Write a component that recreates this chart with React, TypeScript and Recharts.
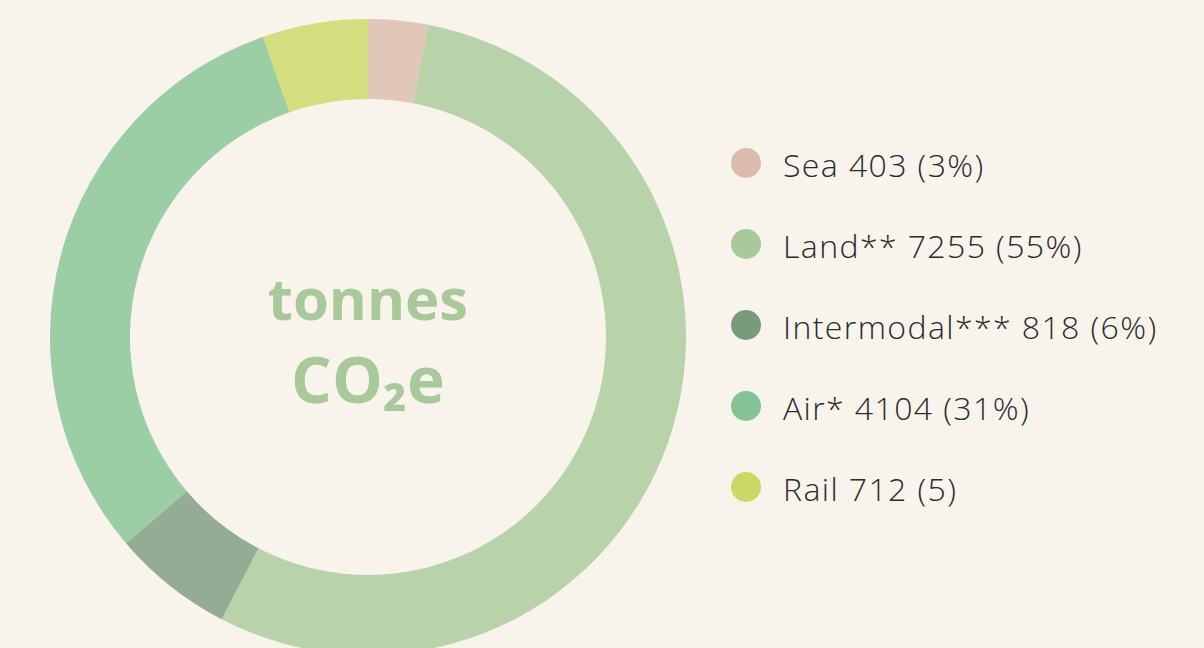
import React from "react";
import { PieChart, Pie, Cell, Legend, Label } from "recharts";

const categories = ["Sea", "Land**", "Intermodal***", "Air*", "Rail"];
const values = [403, 7255, 818, 4104, 712];
const percentLabels = ["(3%)", "(55%)", "(6%)", "(31%)", "(5)"];
const colors = ["#dbbbab", "#a8c99a", "#7a9a7e", "#84c494", "#cad864"];
const centerLines = ["tonnes", "CO₂e"];

const data = categories.map((name, i) => ({ name, value: values[i] }));

const BG = "#f8f4ec";

const LegendContent = () => (
  <div style={{ fontFamily: "'Open Sans', sans-serif", fontWeight: 300 }}>
    {categories.map((c, i) => (
      <div key={c} style={{ display: "flex", alignItems: "center", height: 81 }}>
        <div
          style={{
            width: 30,
            height: 30,
            borderRadius: "50%",
            background: colors[i],
            marginRight: 22,
            flexShrink: 0,
          }}
        />
        <span
          style={{
            fontSize: 32,
            letterSpacing: 1.4,
            color: "#2b2b2b",
            whiteSpace: "nowrap",
            marginTop: 4,
          }}
        >
          {`${c} ${values[i]} ${percentLabels[i]}`}
        </span>
      </div>
    ))}
  </div>
);

const CenterLabel = (props: any) => {
  const vb = props.viewBox || {};
  const cx = vb.cx ?? 368;
  const cy = vb.cy ?? 337;
  return (
    <g>
      <text
        x={cx}
        y={cy - 17}
        textAnchor="middle"
        fill="#a8c99a"
        fontFamily="'Open Sans', sans-serif"
        fontWeight={700}
        fontSize={58}
      >
        {centerLines[0]}
      </text>
      <text
        x={cx}
        y={cy + 66}
        textAnchor="middle"
        fill="#a8c99a"
        fontFamily="'Open Sans', sans-serif"
        fontWeight={700}
        fontSize={64}
      >
        {centerLines[1]}
      </text>
    </g>
  );
};

export default function App() {
  return (
    <div
      style={{
        position: "absolute",
        left: 0,
        top: 0,
        width: 1204,
        height: 648,
        background: BG,
        overflow: "hidden",
      }}
    >
      <PieChart width={1204} height={648} margin={{ top: 0, right: 0, bottom: 0, left: 0 }}>
        <Pie
          data={data}
          dataKey="value"
          nameKey="name"
          cx={368}
          cy={337}
          innerRadius={238}
          outerRadius={318}
          startAngle={90}
          endAngle={-270}
          stroke="none"
          isAnimationActive={false}
          label={false}
          labelLine={false}
        >
          {data.map((d, i) => (
            <Cell key={d.name} fill={colors[i]} fillOpacity={0.8} />
          ))}
          <Label position="center" content={CenterLabel} />
        </Pie>
        <Legend
          content={<LegendContent />}
          wrapperStyle={{ position: "absolute", left: 731, top: 122, width: 470 }}
        />
      </PieChart>
    </div>
  );
}
